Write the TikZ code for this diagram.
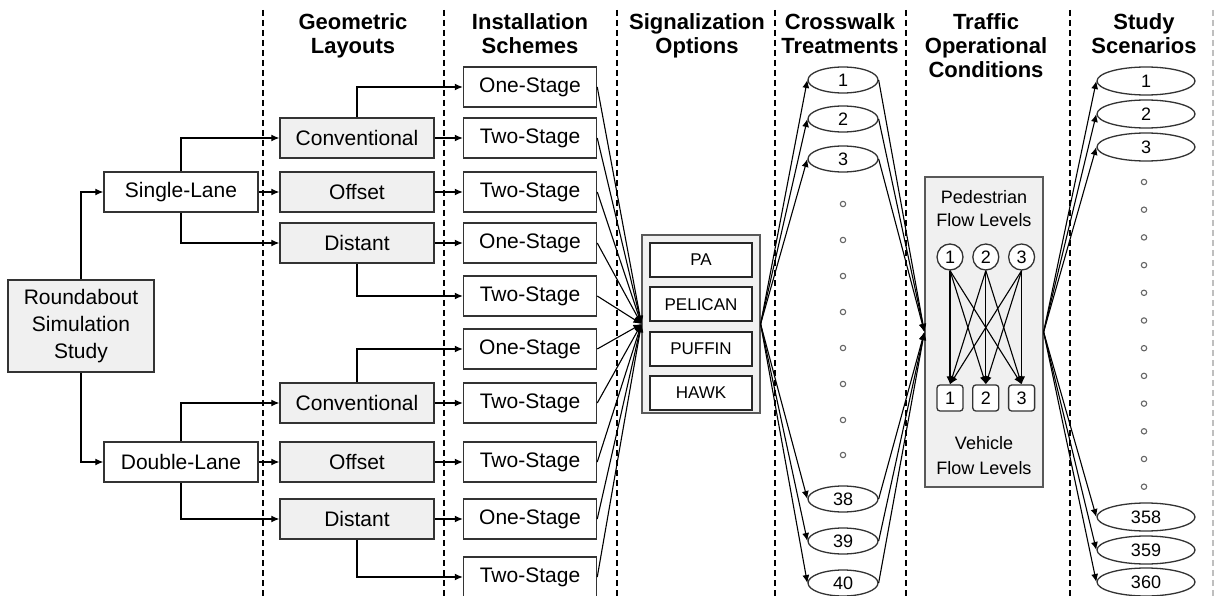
\documentclass[tikz,border=0pt]{standalone}
\usepackage{fontspec}
\setmainfont{Liberation Sans}
\usepackage{xcolor}
\usetikzlibrary{arrows.meta,positioning,shapes.geometric}

\begin{document}
\begin{tikzpicture}[
  x=1pt, y=-1pt,
  node distance=8.5pt,
  head/.style={font=\fontsize{22}{24}\selectfont\bfseries, align=center, anchor=north, inner sep=0pt},
  box/.style={draw=black!80, line width=1.5pt, minimum height=40pt, inner sep=0pt,
    font=\fontsize{21}{27}\selectfont, fill=white},
  geo/.style={box, fill=black!6, minimum width=154pt},
  lane/.style={box, minimum width=154pt},
  inst/.style={box, minimum width=133pt},
  panel/.style={draw=black!65, line width=1.2pt, fill=black!6, inner sep=0pt},
  sigopt/.style={draw=black!85, line width=1.8pt, fill=white, minimum width=102pt,
    minimum height=34pt, inner sep=0pt, font=\fontsize{17}{17}\selectfont},
  oval/.style={ellipse, draw=black!80, line width=1.3pt, fill=white, inner sep=0pt,
    font=\fontsize{18}{18}\selectfont},
  level/.style={draw=black!80, line width=1.3pt, fill=white, minimum size=26pt,
    inner sep=0pt, font=\fontsize{18}{18}\selectfont},
  arrow/.style={-{Latex[length=8pt,width=7pt]}, line width=1.1pt},
  sep/.style={dash pattern=on 6pt off 4pt, line width=1.2pt}
]
\useasboundingbox (0,0) rectangle (1215,596);

\foreach \x in {263,444,617,775,906,1070}
  \draw[sep] (\x,10) -- (\x,596);
\draw[sep, black!25] (1213,10) -- (1213,596);

\node[head] (geohead) at (353,13) {Geometric\\Layouts};
\node[head] (insthead) at (530,13) {Installation\\Schemes};
\node[head] (sighead) at (697,13) {Signalization\\Options};
\node[head] (cwhead) at (840,13) {Crosswalk\\Treatments};
\node[head] (tochead) at (986,13) {Traffic\\Operational\\Conditions};
\node[head] (sshead) at (1144,13) {Study\\Scenarios};

\node[box, fill=black!6, minimum width=146pt, minimum height=92pt, align=center] (root) at (81,326)
  {Roundabout\\Simulation\\Study};
\node[lane] (single) at (181,192) {Single-Lane};
\node[lane] (double) at (181,462) {Double-Lane};

\node[geo] (conv1) at (357,138) {Conventional};
\node[geo] (off1) at (357,192) {Offset};
\node[geo] (dist1) at (357,243) {Distant};
\node[geo] (conv2) at (357,403) {Conventional};
\node[geo] (off2) at (357,462) {Offset};
\node[geo] (dist2) at (357,519) {Distant};

\node[inst] (inst1) at (530,87) {One-Stage};
\node[inst] (inst2) at (530,138) {Two-Stage};
\node[inst] (inst3) at (530,192) {Two-Stage};
\node[inst] (inst4) at (530,243) {One-Stage};
\node[inst] (inst5) at (530,296) {Two-Stage};
\node[inst] (inst6) at (530,349) {One-Stage};
\node[inst] (inst7) at (530,403) {Two-Stage};
\node[inst] (inst8) at (530,462) {Two-Stage};
\node[inst] (inst9) at (530,519) {One-Stage};
\node[inst] (inst10) at (530,577) {Two-Stage};

\draw[arrow] (root.north) |- (single.west);
\draw[arrow] (root.south) |- (double.west);
\draw[arrow] (single.north) |- (conv1.west);
\draw[arrow] (single.east) -- (off1.west);
\draw[arrow] (single.south) |- (dist1.west);
\draw[arrow] (double.north) |- (conv2.west);
\draw[arrow] (double.east) -- (off2.west);
\draw[arrow] (double.south) |- (dist2.west);
\draw[arrow] (conv1.north) |- (inst1.west);
\draw[arrow] (conv1.east) -- (inst2.west);
\draw[arrow] (off1.east) -- (inst3.west);
\draw[arrow] (dist1.east) -- (inst4.west);
\draw[arrow] (dist1.south) |- (inst5.west);
\draw[arrow] (conv2.north) |- (inst6.west);
\draw[arrow] (conv2.east) -- (inst7.west);
\draw[arrow] (off2.east) -- (inst8.west);
\draw[arrow] (dist2.east) -- (inst9.west);
\draw[arrow] (dist2.south) |- (inst10.west);

\node[panel, minimum width=118pt, minimum height=178pt] (sig) at (701,324) {};
\node[sigopt] (pa) at (701,260) {PA};
\node[sigopt, below=of pa] (pelican) {PELICAN};
\node[sigopt, below=of pelican] (puffin) {PUFFIN};
\node[sigopt, below=of puffin] (hawk) {HAWK};
\foreach \i in {1,...,10}
  \draw[arrow] (inst\i.east) -- (sig.west);

\node[oval, minimum width=70pt, minimum height=26pt] (cw1) at (843,80) {1};
\node[oval, minimum width=70pt, minimum height=26pt] (cw2) at (843,119) {2};
\node[oval, minimum width=70pt, minimum height=26pt] (cw3) at (843,159) {3};
\node[oval, minimum width=70pt, minimum height=26pt] (cw38) at (843,499) {38};
\node[oval, minimum width=70pt, minimum height=26pt] (cw39) at (843,541) {39};
\node[oval, minimum width=70pt, minimum height=26pt] (cw40) at (843,583) {40};
\foreach \y in {204,240,276,312,348,384,420,455}
  \draw[black!60, line width=1.1pt] (843,\y) circle (2.7pt);

\node[panel, minimum width=118pt, minimum height=310pt] (toc) at (984,332) {};
\node[align=center, font=\fontsize{18}{23}\selectfont] (ped) at (984,209) {Pedestrian\\Flow Levels};
\node[level, circle] (p1) at (950,257) {1};
\node[level, circle, right=of p1] (p2) {2};
\node[level, circle, right=of p2] (p3) {3};
\node[level, rounded corners=3pt] (v1) at (950,398) {1};
\node[level, rounded corners=3pt, right=of v1] (v2) {2};
\node[level, rounded corners=3pt, right=of v2] (v3) {3};
\node[align=center, font=\fontsize{18}{25}\selectfont] (veh) at (984,456) {Vehicle\\Flow Levels};
\foreach \i in {1,2,3}
  \foreach \j in {1,2,3}
    \draw[arrow] (p\i.south) -- (v\j.north);

\foreach \n in {cw1,cw2,cw3,cw38,cw39,cw40} {
  \draw[arrow] (sig.east) -- (\n.west);
  \draw[arrow] (\n.east) -- (toc.west);
}

\node[oval, minimum width=98pt, minimum height=28pt] (ss1) at (1146,81) {1};
\node[oval, minimum width=98pt, minimum height=28pt] (ss2) at (1146,114) {2};
\node[oval, minimum width=98pt, minimum height=28pt] (ss3) at (1146,147) {3};
\node[oval, minimum width=98pt, minimum height=28pt] (ss358) at (1146,517) {358};
\node[oval, minimum width=98pt, minimum height=28pt] (ss359) at (1146,550) {359};
\node[oval, minimum width=98pt, minimum height=28pt] (ss360) at (1146,582) {360};
\foreach \y in {182,209.7,237.4,265.1,292.8,320.5,348.2,375.9,403.6,431.3,459,486.7}
  \draw[black!60, line width=1.1pt] (1144,\y) circle (2.7pt);
\foreach \n in {ss1,ss2,ss3,ss358,ss359,ss360}
  \draw[arrow] (toc.east) -- (\n.west);
\end{tikzpicture}
\end{document}
